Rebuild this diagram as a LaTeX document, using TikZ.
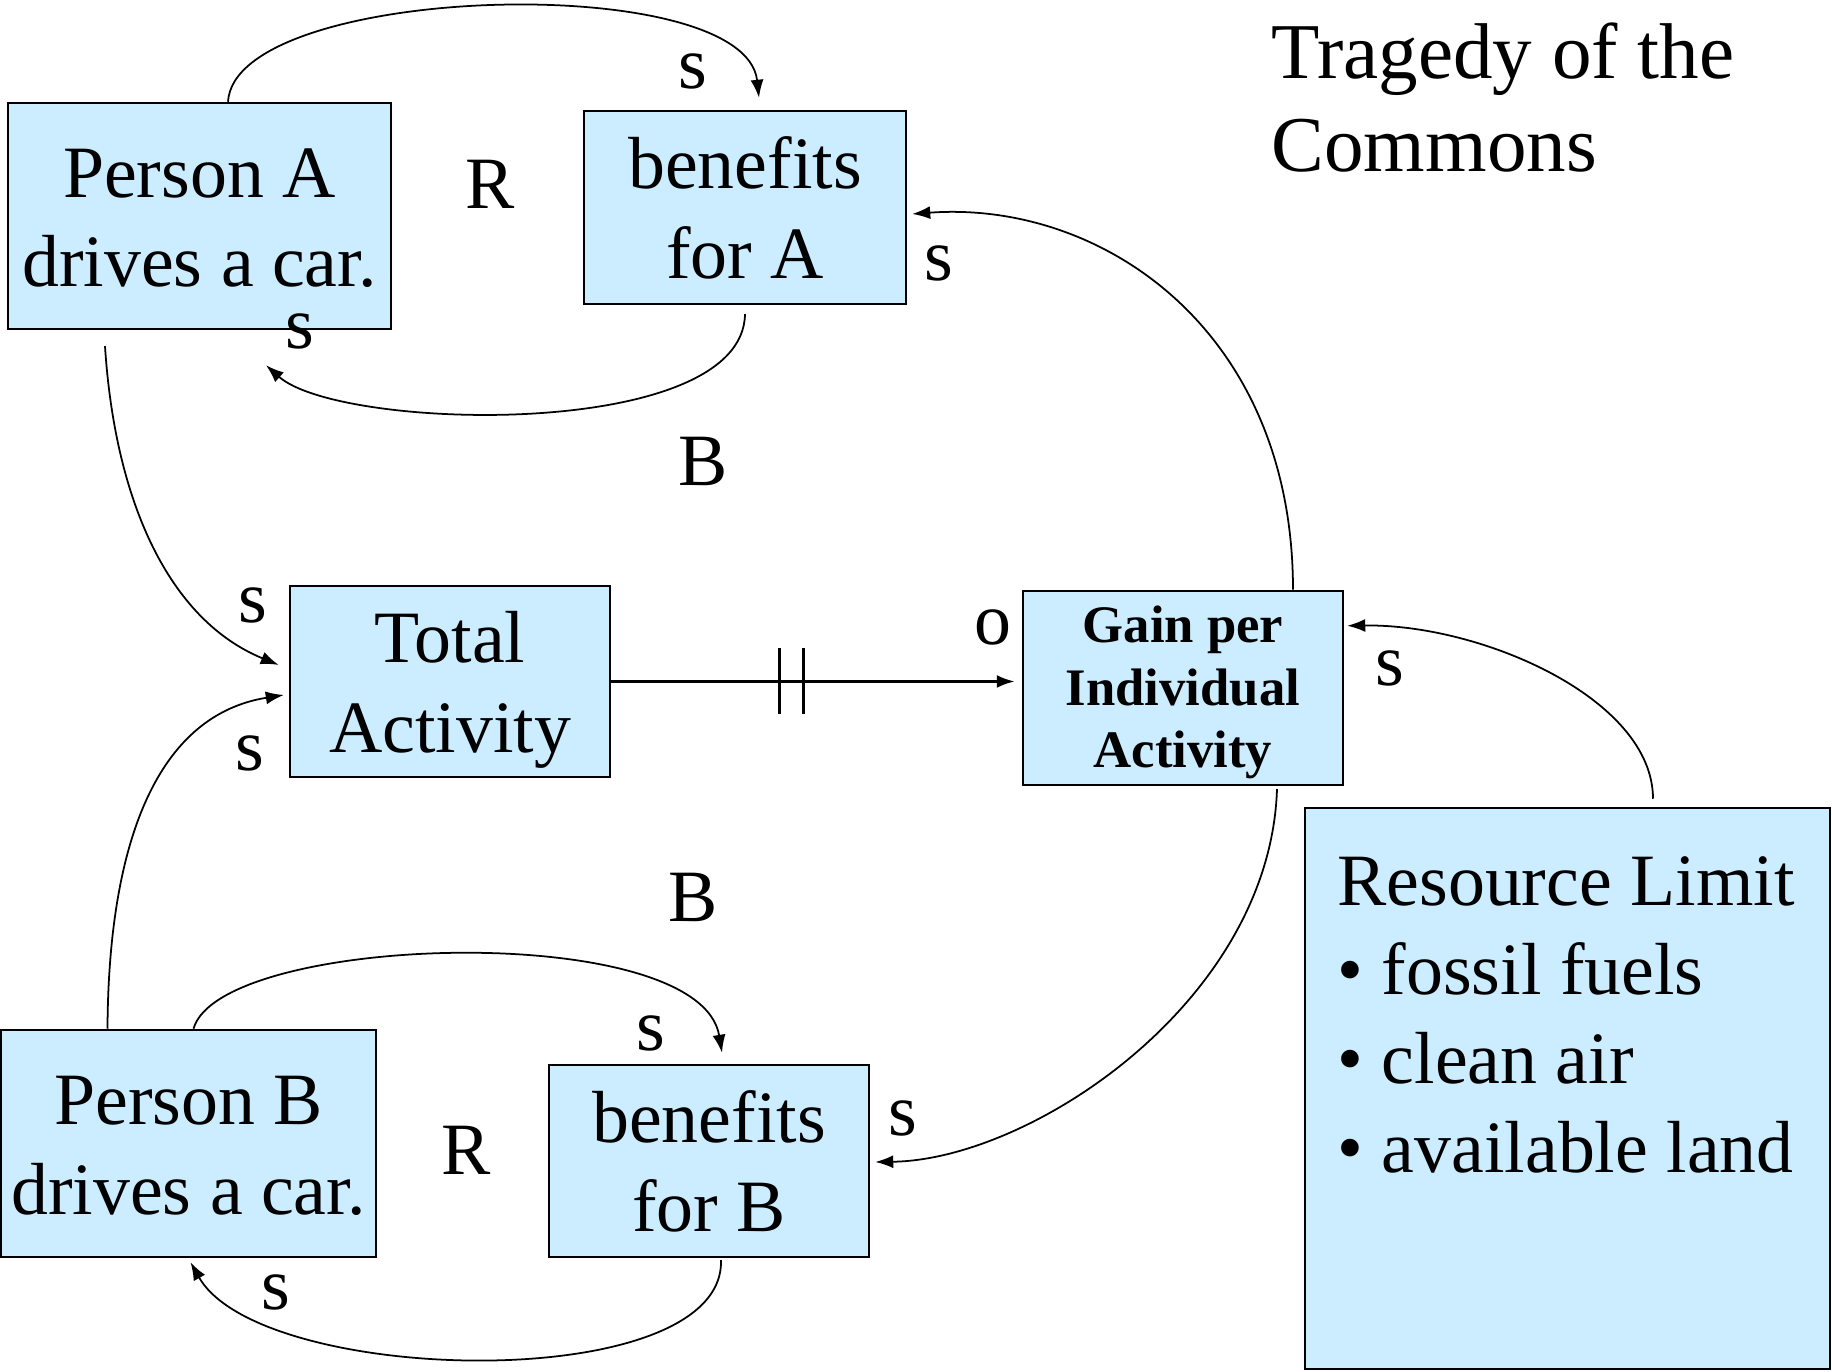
\documentclass[tikz,border=0pt]{standalone}
\usepackage{fontspec}
\setmainfont{Liberation Serif}
\usetikzlibrary{arrows.meta,positioning}
\definecolor{boxblue}{RGB}{204,236,255}
\newcommand{\mainsize}{\fontsize{21}{25.5}\selectfont}

\begin{document}
\begin{tikzpicture}[box/.style = {draw, fill=boxblue, line width=0.7pt, align=center, inner sep=0pt, font=\mainsize, text height=1.42cm, text depth=0cm},
    lbl/.style = {inner sep=0pt, font=\mainsize},
    link/.style = {-{Latex[length=1.8mm, width=1.3mm]}, line width=0.5pt}]
    \useasboundingbox (0,0) rectangle (18.32,13.72);
    % boxes
    \node[box, minimum width=3.83cm, minimum height=2.26cm] (personA) at (1.995,11.56) {Person A\\drives a car.};
    \node[box, minimum width=3.22cm, minimum height=1.93cm] (benA) at (7.45,11.645) {benefits\\for A};
    \node[box, minimum width=3.20cm, minimum height=1.91cm] (total) at (4.50,6.905) {Total\\Activity};
    \node[box, minimum width=3.20cm, minimum height=1.94cm, font=\fontsize{15}{17.9}\selectfont\bfseries, text height=1.63cm, text depth=0.03cm] (gain) at (11.83,6.84) {Gain per\\Individual\\Activity};
    \node[box, minimum width=3.75cm, minimum height=2.27cm] (personB) at (1.885,2.285) {Person B\\drives a car.};
    \node[box, minimum width=3.20cm, minimum height=1.92cm] (benB) at (7.09,2.11) {benefits\\for B};
    \node[box, minimum width=5.25cm, minimum height=5.61cm, text height=, text depth=] (limit) at (15.675,2.835) {};
    \node[lbl, align=left, font=\fontsize{21}{25.3}\selectfont, below right=0.49cm and 0.33cm of limit.north west] (limitText)
        {Resource Limit\\\textbullet\ fossil fuels\\\textbullet\ clean air\\\textbullet\ available land};
    \node[lbl, align=left, anchor=north west, font=\fontsize{22.5}{26.4}\selectfont] (title) at (12.71,13.50) {Tragedy of the\\Commons};

    % loop labels
    \node[lbl] (rA) at (4.90,11.88) {R};
    \node[lbl] (bA) at (7.03,9.11) {B};
    \node[lbl] (bB) at (6.93,4.75) {B};
    \node[lbl] (rB) at (4.66,2.22) {R};

    % links
    \draw[link] ([xshift=0.285cm]personA.north) .. controls +(0.07,1.18) and +(-0.14,1.29) .. ([xshift=0.14cm,yshift=0.12cm]benA.north);
    \draw[link] ([yshift=-0.09cm]benA.south) .. controls +(-0.02,-1.27) and +(0.74,-0.66) .. ([xshift=0.665cm,yshift=-0.35cm]personA.south);
    \draw[link] ([xshift=-0.945cm,yshift=-0.16cm]personA.south) .. controls +(0.10,-1.55) and +(-1.10,0.45) .. ([xshift=-0.10cm,yshift=0.165cm]total.west);
    \draw[link] ([xshift=-0.81cm]personB.north) .. controls +(0.01,1.90) and +(-1.25,-0.20) .. ([xshift=-0.05cm,yshift=-0.135cm]total.west);
    \draw[link, line width=0.8pt, shorten >=0.07cm] (total.east) -- coordinate[pos=0.44] (delay) (total.east -| gain.west);
    \draw[line width=0.8pt] ([xshift=-0.12cm,yshift=0.33cm]delay) -- ++(0,-0.66);
    \draw[line width=0.8pt] ([xshift=0.12cm,yshift=0.33cm]delay) -- ++(0,-0.66);
    \draw[link] ([xshift=1.10cm]gain.north) .. controls +(0,2.60) and +(1.89,0.14) .. ([xshift=0.05cm,yshift=-0.065cm]benA.east);
    \draw[link] ([xshift=0.94cm,yshift=-0.03cm]gain.south) .. controls +(-0.07,-2.12) and +(1.56,0.02) .. ([xshift=0.05cm,yshift=-0.01cm]benB.east);
    \draw[link] ([xshift=0.855cm,yshift=0.08cm]limit.north) .. controls +(0,1.00) and +(1.34,0.02) .. ([xshift=0.03cm,yshift=-0.36cm]gain.north east);
    \draw[link] ([xshift=0.05cm]personB.north) .. controls +(0.27,0.95) and +(-0.22,1.34) .. ([xshift=0.13cm,yshift=0.11cm]benB.north);
    \draw[link] ([xshift=0.12cm,yshift=-0.02cm]benB.south) .. controls +(0.04,-1.36) and +(0.70,-1.24) .. ([xshift=0.02cm,yshift=-0.04cm]personB.south);

    % polarity labels
    \node[lbl] (s1) at (6.93,13.00) {s};
    \node[lbl] (s2) at (3.00,10.41) {s};
    \node[lbl] (s3) at (2.53,7.67) {s};
    \node[lbl] (s4) at (2.50,6.19) {s};
    \node[lbl] (o1) at (9.93,7.45) {o};
    \node[lbl] (s5) at (9.39,11.09) {s};
    \node[lbl] (s6) at (13.90,7.04) {s};
    \node[lbl] (s7) at (6.51,3.39) {s};
    \node[lbl] (s8) at (9.03,2.54) {s};
    \node[lbl] (s9) at (2.76,0.80) {s};
\end{tikzpicture}
\end{document}
